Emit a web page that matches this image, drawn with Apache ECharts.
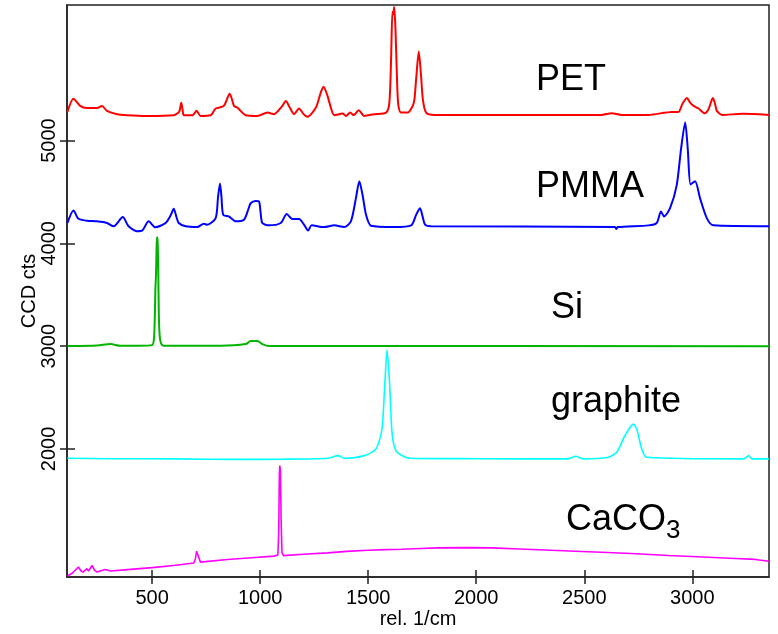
<!DOCTYPE html>
<html>
<head>
<meta charset="utf-8">
<script src="https://cdn.jsdelivr.net/npm/echarts@6/dist/echarts.min.js"></script>
<style>
html,body{margin:0;padding:0;background:#fff;}
#c{width:778px;height:634px;}
</style>
</head>
<body>
<div id="c"></div>
<script>
// ---- data ----
const xTicks = [500, 1000, 1500, 2000, 2500, 3000];
const yTicks = [2000, 3000, 4000, 5000];
const xRange = [106, 3355];
const yRange = [754, 6319];

const PET = [
 [108,5279],[136,5408],[167,5337],[198,5317],[245,5317],[268,5337],[291,5289],[338,5257],[384,5247],
 [477,5240],[600,5247],[625,5280],[635,5369],[641,5300],[647,5247],[686,5247],[706,5289],[724,5240],
 [771,5247],[794,5312],[832,5337],[859,5456],[879,5337],[894,5321],[933,5247],[987,5240],[1034,5272],
 [1064,5257],[1100,5330],[1119,5385],[1135,5330],[1157,5257],[1180,5312],[1200,5260],[1219,5231],
 [1258,5321],[1278,5450],[1293,5523],[1312,5433],[1330,5300],[1343,5247],[1382,5263],[1397,5240],
 [1417,5272],[1433,5247],[1456,5296],[1482,5240],[1528,5257],[1583,5272],[1598,5369],[1606,5800],
 [1612,6250],[1616,6230],[1620,6300],[1625,6150],[1629,5900],[1635,5500],[1640,5337],[1652,5272],
 [1683,5272],[1706,5337],[1714,5401],[1722,5600],[1734,5866],[1744,5650],[1753,5401],[1768,5272],
 [1807,5250],[2580,5250],[2627,5266],[2672,5250],[2797,5250],[2905,5279],[2936,5279],[2955,5360],
 [2975,5414],[2990,5370],[3006,5337],[3029,5312],[3057,5266],[3075,5305],[3095,5414],[3105,5360],
 [3114,5289],[3137,5250],[3232,5260],[3355,5250]
];

const PMMA = [
 [108,4198],[136,4320],[159,4239],[198,4220],[245,4214],[291,4198],[322,4166],[364,4256],[391,4166],
 [430,4118],[454,4124],[484,4214],[515,4156],[562,4198],[585,4270],[600,4336],[612,4260],[623,4198],
 [655,4166],[709,4159],[739,4191],[755,4182],[794,4246],[805,4450],[814,4583],[821,4450],[829,4278],
 [855,4262],[887,4214],[925,4230],[945,4330],[956,4390],[979,4413],[995,4406],[1002,4300],[1010,4198],
 [1041,4175],[1095,4198],[1123,4285],[1150,4236],[1180,4236],[1203,4182],[1222,4124],[1238,4175],
 [1296,4159],[1343,4175],[1389,4159],[1420,4214],[1443,4438],[1459,4605],[1474,4470],[1490,4278],
 [1513,4172],[1621,4159],[1699,4175],[1722,4278],[1740,4342],[1752,4260],[1763,4182],[1791,4166],
 [2642,4159],[2648,4140],[2655,4159],[2797,4175],[2835,4198],[2855,4310],[2869,4262],[2897,4342],
 [2928,4567],[2948,4920],[2967,5177],[2979,4920],[2992,4573],[3013,4605],[3036,4438],[3067,4246],
 [3098,4175],[3355,4166]
];

const SI = [
 [108,3001],[245,3007],[307,3020],[353,3004],[438,3004],[500,3010],[508,3060],[512,3251],[515,3550],
 [518,3700],[520,3900],[522,4060],[525,4040],[528,3800],[531,3300],[535,3100],[541,3030],[554,3004],
 [817,3004],[933,3020],[956,3049],[987,3049],[1010,3020],[1041,3001],[3355,3000]
];

const GRAPHITE = [
 [108,1910],[300,1905],[600,1903],[900,1898],[1100,1900],[1312,1910],[1361,1935],[1389,1910],
 [1482,1935],[1536,2000],[1560,2150],[1567,2256],[1578,2674],[1587,2963],[1598,2674],[1609,2193],
 [1620,2030],[1637,1962],[1691,1910],[2000,1905],[2426,1903],[2460,1929],[2495,1903],[2611,1919],
 [2650,1967],[2688,2128],[2727,2241],[2743,2193],[2766,1999],[2789,1919],[3238,1903],[3261,1935],
 [3276,1903],[3355,1903]
];

const CACO3 = [
 [108,764],[130,790],[159,851],[170,815],[180,802],[198,835],[206,812],[222,867],[233,820],[245,802],
 [283,828],[307,812],[400,828],[500,845],[600,866],[693,890],[700,930],[706,1005],[712,1000],[718,930],
 [724,899],[848,925],[960,942],[1064,957],[1082,968],[1086,1200],[1089,1760],[1091,1839],[1094,1780],
 [1097,1300],[1101,990],[1108,962],[1200,975],[1312,989],[1400,1003],[1498,1014],[1580,1020],[1652,1024],
 [1745,1031],[1822,1037],[1950,1040],[2070,1037],[2200,1027],[2348,1014],[2460,1005],[2580,995],
 [2740,980],[2890,963],[3050,948],[3199,934],[3291,925],[3355,908]
];

const spectra = [
  {name:'PET', data:PET, color:'#ff0000', width:2, smooth:0.25},
  {name:'PMMA', data:PMMA, color:'#0000ff', width:2, smooth:0.25},
  {name:'Si', data:SI, color:'#00b400', width:2, smooth:0.25},
  {name:'graphite', data:GRAPHITE, color:'#00ffff', width:1.6, smooth:0.25},
  {name:'CaCO3', data:CACO3, color:'#ff00ff', width:1.6, smooth:false}
];

// ---- chart ----
const chart = echarts.init(document.getElementById('c'));
const FONT = 'Liberation Sans';
const plain = v => String(v);
const option = {
  animation:false,
  backgroundColor:'#fff',
  textStyle:{fontFamily:FONT},
  grid:{left:67, right:9, top:5, bottom:51, show:true, borderColor:'#222', borderWidth:1.5, containLabel:false},
  xAxis:[
    {type:'value', min:xRange[0], max:xRange[1], position:'bottom',
     name:'rel. 1/cm', nameLocation:'middle', nameGap:32, nameMoveOverlap:false,
     nameTextStyle:{fontFamily:FONT, fontSize:20, color:'#000'},
     axisLine:{show:true, lineStyle:{color:'#222', width:1.5}},
     axisTick:{show:true, inside:false, length:7, lineStyle:{color:'#222', width:1.5}, customValues:xTicks},
     axisLabel:{show:true, margin:11, fontFamily:FONT, fontSize:20, color:'#000', customValues:xTicks, formatter:plain},
     splitLine:{show:false}},
    {type:'value', min:xRange[0], max:xRange[1], position:'bottom',
     axisLine:{show:false},
     axisTick:{show:true, inside:true, length:7, lineStyle:{color:'#222', width:1.5}, customValues:xTicks},
     axisLabel:{show:false, customValues:xTicks},
     splitLine:{show:false}}
  ],
  yAxis:[
    {type:'value', min:yRange[0], max:yRange[1], position:'left',
     name:'CCD cts', nameLocation:'middle', nameGap:28, nameRotate:90, nameMoveOverlap:false,
     nameTextStyle:{fontFamily:FONT, fontSize:20, color:'#000'},
     axisLine:{show:true, lineStyle:{color:'#222', width:1.5}},
     axisTick:{show:true, inside:false, length:7, lineStyle:{color:'#222', width:1.5}, customValues:yTicks},
     axisLabel:{show:true, rotate:90, margin:8, fontFamily:FONT, fontSize:20, color:'#000', customValues:yTicks, formatter:plain},
     splitLine:{show:false}},
    {type:'value', min:yRange[0], max:yRange[1], position:'left',
     axisLine:{show:false},
     axisTick:{show:true, inside:true, length:8, lineStyle:{color:'#222', width:1.5}, customValues:yTicks},
     axisLabel:{show:false, customValues:yTicks},
     splitLine:{show:false}}
  ],
  series: spectra.map(s => ({
    type:'line', name:s.name, data:s.data, xAxisIndex:0, yAxisIndex:0,
    showSymbol:false, symbol:'none', smooth:s.smooth,
    lineStyle:{color:s.color, width:s.width},
    z: 3
  })),
  graphic:[
    {type:'text', left:536, top:62, style:{text:'PET', font:'36px "Liberation Sans"', fill:'#000'}},
    {type:'text', left:536, top:169, style:{text:'PMMA', font:'36px "Liberation Sans"', fill:'#000'}},
    {type:'text', left:551, top:290, style:{text:'Si', font:'36px "Liberation Sans"', fill:'#000'}},
    {type:'text', left:551, top:384, style:{text:'graphite', font:'36px "Liberation Sans"', fill:'#000'}},
    {type:'text', left:566, top:502, style:{text:'CaCO', font:'36px "Liberation Sans"', fill:'#000'}},
    {type:'text', left:666, top:518, style:{text:'3', font:'26px "Liberation Sans"', fill:'#000'}}
  ]
};
chart.setOption(option);
</script>
</body>
</html>
